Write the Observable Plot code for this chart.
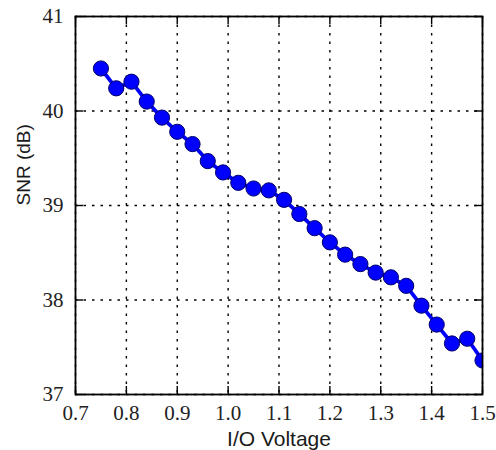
<!DOCTYPE html>
<html><head><meta charset="utf-8">
<script src="https://cdn.jsdelivr.net/npm/d3@7"></script>
<script src="https://cdn.jsdelivr.net/npm/@observablehq/plot@0.6"></script>
<style>body{margin:0;background:#fff}</style>
</head><body><div id="chart"></div>
<script>
const voltage = [0.75,0.78,0.81,0.84,0.87,0.90,0.93,0.96,0.99,1.02,1.05,1.08,1.11,1.14,1.17,1.20,1.23,1.26,1.29,1.32,1.35,1.38,1.41,1.44,1.47,1.50];
const snr = [40.45,40.24,40.31,40.10,39.93,39.78,39.65,39.47,39.35,39.24,39.18,39.16,39.06,38.91,38.76,38.61,38.48,38.38,38.29,38.24,38.15,37.94,37.74,37.54,37.59,37.36];
const xTicks = [0.7,0.8,0.9,1.0,1.1,1.2,1.3,1.4,1.5];
const yTicks = [37,38,39,40,41];
const data = voltage.map((v, i) => ({v, s: snr[i]}));

const serif = "Liberation Serif";
const sans = "Liberation Sans";
const W = 496, H = 450, mL = 75, mR = 14, mT = 16, mB = 56;
const fh = H - mT - mB, fw = W - mL - mR, tk = 8;
const grid = {stroke: "#000", strokeOpacity: 1, strokeWidth: 1.4, strokeDasharray: "2.5,6"};
const tickStyle = {stroke: "#000", strokeWidth: 1.4};
const chart = Plot.plot({
  width: W, height: H,
  marginLeft: mL, marginRight: mR, marginTop: mT, marginBottom: mB,
  x: {domain: [0.7, 1.5], axis: null},
  y: {domain: [37, 41], axis: null},
  style: {background: "#fff"},
  marks: [
    Plot.gridX(xTicks, grid),
    Plot.gridY(yTicks, grid),
    Plot.tickX(xTicks, {x: d => d, ...tickStyle, insetTop: fh - tk}),
    Plot.tickX(xTicks, {x: d => d, ...tickStyle, insetBottom: fh - tk}),
    Plot.tickY(yTicks, {y: d => d, ...tickStyle, insetRight: fw - tk}),
    Plot.tickY(yTicks, {y: d => d, ...tickStyle, insetLeft: fw - tk}),
    Plot.text(xTicks, {x: d => d, text: d3.format(".1f"), frameAnchor: "bottom", lineAnchor: "middle", dy: 19, fontSize: 21, fontFamily: serif, fill: "#222"}),
    Plot.text(yTicks, {y: d => d, text: d3.format("d"), frameAnchor: "left", textAnchor: "end", lineAnchor: "middle", dx: -12, fontSize: 21, fontFamily: serif, fill: "#222"}),
    Plot.line(data, {x: "v", y: "s", stroke: "#0000ff", strokeWidth: 3.8, clip: true}),
    Plot.dot(data, {x: "v", y: "s", r: 7.6, fill: "#0000ff", stroke: "#000066", strokeWidth: 1, clip: true}),
    Plot.frame({stroke: "#000", strokeWidth: 1.8}),
    Plot.text(["I/O Voltage"], {text: d => d, frameAnchor: "bottom", lineAnchor: "middle", dy: 45, fontSize: 21, fontFamily: sans, fill: "#1a1a1a"}),
    Plot.text(["SNR (dB)"], {text: d => d, frameAnchor: "left", lineAnchor: "middle", dx: -52, rotate: -90, fontSize: 19, fontFamily: sans, fill: "#1a1a1a"})
  ]
});
document.getElementById("chart").appendChild(chart);
</script>
</body></html>
